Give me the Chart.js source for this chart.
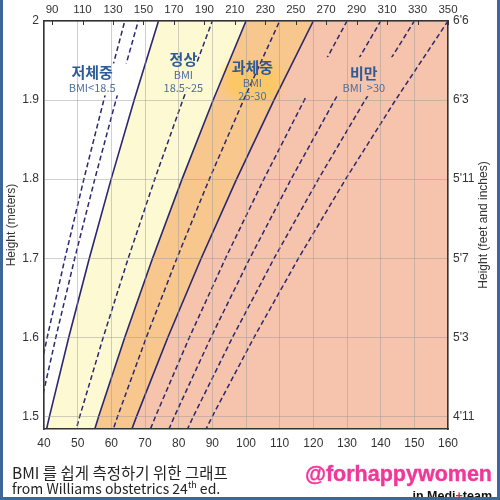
<!DOCTYPE html>
<html>
<head>
<meta charset="utf-8">
<script src="https://cdn.jsdelivr.net/npm/chart.js@4.4.0/dist/chart.umd.min.js"></script>
<style>
  html, body { margin: 0; padding: 0; background: #fff; }
  #wrap { position: relative; width: 500px; height: 500px; overflow: hidden; background: #fff; }
  #chart { position: absolute; left: 0; top: 0; }
  .note { position: absolute; white-space: nowrap; line-height: 1; }
  #cap1 { left: 12px; top: 461px; font: 15.5px "Noto Sans CJK KR"; color: #222; }
  #cap2 { left: 12px; top: 478px; font: 14px "Noto Sans CJK KR"; color: #222; }
  #cap2 sup { font-size: 9px; vertical-align: 6px; }
  #tag { right: 8px; top: 462px; font: bold 21.5px "Liberation Sans"; color: #f2379a; -webkit-text-stroke: 0.4px #f2379a; }
  #team { right: 8px; top: 489px; font: bold 12.5px "Liberation Sans"; color: #111; }
  #team span { color: #e8202a; }
  #frame { position: absolute; left: 0; top: 0; width: 500px; height: 500px; box-sizing: border-box;
           border-left: 3px solid #3f6699; border-right: 3px solid #3f6699; border-bottom: 3px solid #3f6699; }
</style>
</head>
<body>
<div id="wrap">
  <canvas id="chart" width="500" height="500"></canvas>
  <div class="note" id="cap1">BMI 를 쉽게 측정하기 위한 그래프</div>
  <div class="note" id="cap2">from Williams obstetrics 24<sup>th</sup> ed.</div>
  <div class="note" id="tag">@forhappywomen</div>
  <div class="note" id="team">in Medi<span>+</span>team</div>
  <div id="frame"></div>
</div>
<script>
// heights (m) where every BMI line is sampled
const heights = [1.4, 1.5, 1.6, 1.7, 1.8, 1.9, 2.0, 2.1];
// zone borders (solid) and guide lines (dashed)
const solidBmi = [18.5, 25, 30];
const dashedBmi = [16, 17, 22.5, 27.5, 32.5, 35, 37.5, 40];

const kgTicks = [40, 50, 60, 70, 80, 90, 100, 110, 120, 130, 140, 150, 160];
const lbTicks = [90, 110, 130, 150, 170, 190, 210, 230, 250, 270, 290, 310, 330, 350];
const meterTicks = [1.5, 1.6, 1.7, 1.8, 1.9, 2.0];
const feetLabels = ["4'11", "5'3", "5'7", "5'11", "6'3", "6'6"];

const zoneNames = ["저체중", "정상", "과체중", "비만"];
const zoneSubs = [["BMI<18.5"], ["BMI", "18.5~25"], ["BMI", "25-30"], ["BMI  >30"]];
const zoneKg = [54.3, 81.4, 101.9, 135];
const zoneHeight = [1.935, 1.951, 1.941, 1.934];

const navy = "#2b2870";
const zoneFill = ["#fdf9d3", "#f8c78e", "#f6c4ac"];
const gridColor = "rgba(150,150,150,0.45)";
const tickFont = {family: "Liberation Sans", size: 12};

function bmiLine(bmi) {
    return heights.map(h => ({x: bmi * h * h, y: h}));
}

const datasets = [];
solidBmi.forEach((b, i) => {
    datasets.push({
        label: "BMI " + b,
        data: bmiLine(b),
        borderColor: navy,
        borderWidth: 1.6,
        backgroundColor: zoneFill[i],
        fill: {value: 400},
        order: 3 - i,
    });
});
dashedBmi.forEach(b => {
    datasets.push({
        label: "BMI " + b,
        data: bmiLine(b),
        borderColor: navy,
        borderWidth: 1.5,
        borderDash: [5, 3],
        fill: false,
        order: 0,
    });
});
datasets.forEach(d => { d.xAxisID = "x"; d.yAxisID = "y"; });

// [left, top, right, bottom] around each zone label, painted to break the lines
const gapBoxes = [[8, -9, 38, 23, "#ffffff"], [-8, 3, 22, 32, zoneFill[0]], null, [-63, -16, 32, 23, zoneFill[2]]];

const zonePlugin = {
    id: "zones",
    beforeDatasetsDraw(chart) {
        // soft glow behind the overweight label
        const {ctx, scales} = chart;
        const cx = scales.x.getPixelForValue(zoneKg[2]);
        const cy = scales.y.getPixelForValue(zoneHeight[2]);
        ctx.save();
        ctx.filter = "blur(4px)";
        ctx.fillStyle = "#fcc766";
        ctx.beginPath();
        ctx.roundRect(cx - 27, cy - 5, 54, 36, 12);
        ctx.fill();
        ctx.restore();
    },
    afterDatasetsDraw(chart) {
        const {ctx, scales} = chart;
        ctx.save();
        gapBoxes.forEach((box, i) => {
            if (!box) return;
            const cx = scales.x.getPixelForValue(zoneKg[i]);
            const cy = scales.y.getPixelForValue(zoneHeight[i]);
            ctx.fillStyle = box[4];
            ctx.fillRect(cx + box[0], cy + box[1], box[2] - box[0], box[3] - box[1]);
        });
        ctx.restore();
    },
    afterDraw(chart) {
        const {ctx, scales, chartArea} = chart;
        ctx.save();
        // short inner ticks under the pound labels
        ctx.strokeStyle = "#333";
        ctx.lineWidth = 1;
        lbTicks.forEach(v => {
            const x = Math.round(scales.x2.getPixelForValue(v)) + 0.5;
            ctx.beginPath();
            ctx.moveTo(x, chartArea.top);
            ctx.lineTo(x, chartArea.top + 4);
            ctx.stroke();
        });
        ctx.textAlign = "center";
        ctx.textBaseline = "middle";
        zoneNames.forEach((name, i) => {
            const cx = scales.x.getPixelForValue(zoneKg[i]);
            const cy = scales.y.getPixelForValue(zoneHeight[i]);
            ctx.fillStyle = "#2c5b98";
            ctx.font = "bold 15px 'Noto Sans CJK KR'";
            ctx.fillText(name, cx, cy);
            ctx.fillStyle = "#4e6f9b";
            ctx.font = "11px 'Noto Sans CJK KR'";
            zoneSubs[i].forEach((s, j) => ctx.fillText(s, cx, cy + 15 + j * 13.5));
        });
        // axis titles, both reading bottom to top
        const midY = (chartArea.top + chartArea.bottom) / 2;
        ctx.fillStyle = "#333";
        ctx.font = "12px 'Liberation Sans'";
        [[12, "Height (meters)"], [484, "Height (feet and inches)"]].forEach(([x, t]) => {
            ctx.save();
            ctx.translate(x, midY);
            ctx.rotate(-Math.PI / 2);
            ctx.fillText(t, 0, 0);
            ctx.restore();
        });
        ctx.restore();
    }
};

const border = {color: "#333", width: 1.5, z: 2};

new Chart(document.getElementById("chart"), {
    type: "line",
    data: {datasets: datasets},
    options: {
        responsive: false,
        animation: false,
        indexAxis: "y",
        layout: {padding: 0},
        elements: {line: {tension: 0}, point: {radius: 0}},
        plugins: {
            legend: {display: false},
            tooltip: {enabled: false},
            filler: {drawTime: "beforeDatasetsDraw"},
        },
        scales: {
            x: {
                type: "linear", position: "bottom", min: 40, max: 160,
                afterBuildTicks: s => { s.ticks = kgTicks.map(v => ({value: v})); },
                afterFit: s => { s.height = 71; },
                grid: {color: gridColor, z: 1, drawTicks: false},
                border: border,
                ticks: {padding: 7, color: "#333", font: tickFont, maxRotation: 0, autoSkip: false},
            },
            x2: {
                type: "linear", position: "top", min: 84.7, max: 350,
                afterBuildTicks: s => { s.ticks = lbTicks.map(v => ({value: v})); },
                afterFit: s => { s.height = 21; },
                grid: {drawOnChartArea: false, drawTicks: false},
                border: border,
                ticks: {padding: 4, color: "#333", font: {family: "Liberation Sans", size: 11.5}, maxRotation: 0, autoSkip: false},
            },
            y: {
                type: "linear", position: "left", min: 1.484, max: 2.0,
                afterBuildTicks: s => { s.ticks = meterTicks.map(v => ({value: v})); },
                afterFit: s => { s.width = 44; },
                grid: {color: gridColor, z: 1, drawTicks: false},
                border: border,
                ticks: {padding: 5, color: "#333", font: tickFont, callback: v => String(Math.round(v * 10) / 10)},
            },
            y2: {
                type: "linear", position: "right", min: 1.484, max: 2.0,
                afterBuildTicks: s => { s.ticks = meterTicks.map(v => ({value: v})); },
                afterFit: s => { s.width = 52; },
                grid: {drawOnChartArea: false, drawTicks: false},
                border: border,
                ticks: {padding: 5, color: "#333", font: tickFont, callback: (v, i) => feetLabels[i]},
            },
        },
    },
    plugins: [zonePlugin],
});
</script>
</body>
</html>
